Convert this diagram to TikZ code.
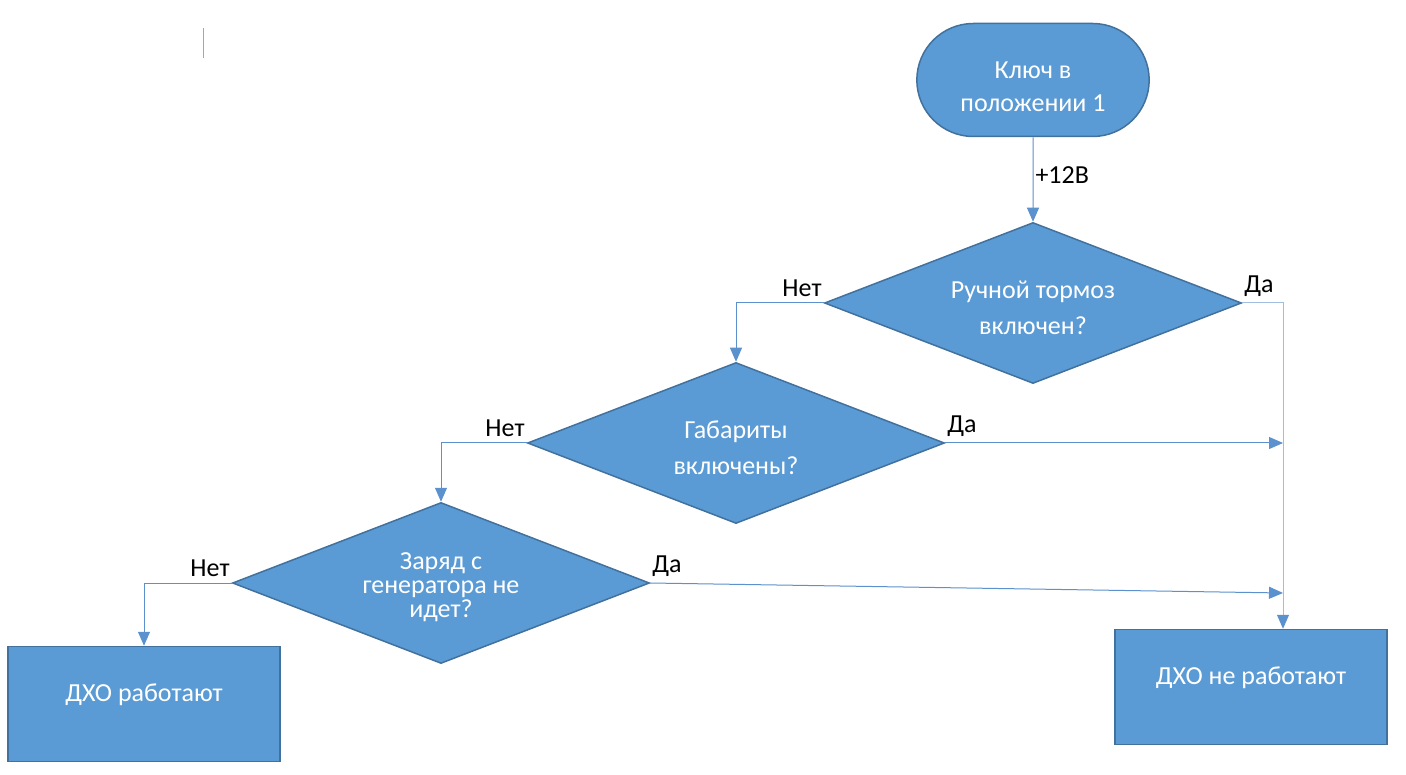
\documentclass[tikz,border=0pt]{standalone}
\usepackage{fontspec}
\setmainfont{Carlito}
\usepackage{tikz}
\usetikzlibrary{
  arrows.meta,
  shapes.geometric,
  shapes.misc
}
\definecolor{boxblue}{RGB}{91,155,213}
\definecolor{edgeblue}{RGB}{65,113,156}
\definecolor{lineblue}{RGB}{91,145,205}
\definecolor{railblue}{RGB}{160,190,222}

\tikzset{
  terminal/.style={draw=edgeblue, line width=1.5pt, fill=boxblue, rounded rectangle,
    minimum width=239pt, minimum height=113pt, text=white, align=center,
    text height=64pt, font=\fontsize{26}{33}\selectfont},
  decision/.style={draw=edgeblue, line width=1.5pt, fill=boxblue, diamond, aspect=2.59,
    inner sep=0pt, minimum width=417pt, minimum height=161pt, text=white, align=center,
    text height=63pt, font=\fontsize{26}{36}\selectfont},
  outcome/.style={draw=edgeblue, line width=1.5pt, fill=boxblue, rectangle,
    minimum width=272pt, minimum height=115pt, text depth=22pt, text=white,
    font=\fontsize{26}{31}\selectfont},
  flow/.style={draw=lineblue, line width=1pt, -{Triangle[length=14pt,width=12pt,color=lineblue]}},
  answer/.style={font=\fontsize{26}{31}\selectfont, text=black, inner sep=2pt, yshift=4pt}
}

\begin{document}
\begin{tikzpicture}[x=1pt, y=-1pt]
  \useasboundingbox (0,0) rectangle (1406,775);
  \fill[white] (0,0) rectangle (1406,775);

  % cursor mark
  \draw[gray!70, line width=0.8pt] (203,28) -- (203,58);

  % start and questions
  \node[terminal] (key) at (1033,80) {Ключ в\\положении 1};
  \node[decision] (brake) at (1033,303) {Ручной тормоз\\включен?};
  \node[decision] (lights) at (736,443) {Габариты\\включены?};
  \node[decision, text height=73pt, font=\fontsize{26}{24}\selectfont] (charge) at (441,583)
    {Заряд с\\генератора не\\идет?};

  % results
  \node[outcome] (drlon) at (144,704) {ДХО работают};
  \node[outcome] (drloff) at (1251,687) {ДХО не работают};

  % right collecting line
  \coordinate (rail) at (1283,303);
  \coordinate (chargein) at (1283,593);

  % connectors
  \draw[flow] (key) -- node[answer, right] (volt) {+12В} (brake);
  \draw[flow] (brake.west) -| (lights.north);
  \draw[flow] (lights.west) -| (charge.north);
  \draw[flow] (charge.west) -| (drlon.north);
  \draw[flow, draw=railblue] (brake.east) -- (rail) -- (rail |- drloff.north);
  \draw[flow] (lights.east) -- (rail |- lights.east);
  \draw[flow] (charge.east) -- (chargein);

  % answers
  \node[answer, anchor=south east] (no1) at (brake.west) {Нет};
  \node[answer, anchor=south west] (yes1) at (brake.east) {Да};
  \node[answer, anchor=south east] (no2) at (lights.west) {Нет};
  \node[answer, anchor=south west] (yes2) at (lights.east) {Да};
  \node[answer, anchor=south east] (no3) at (charge.west) {Нет};
  \node[answer, anchor=south west] (yes3) at (charge.east) {Да};

\end{tikzpicture}
\end{document}
